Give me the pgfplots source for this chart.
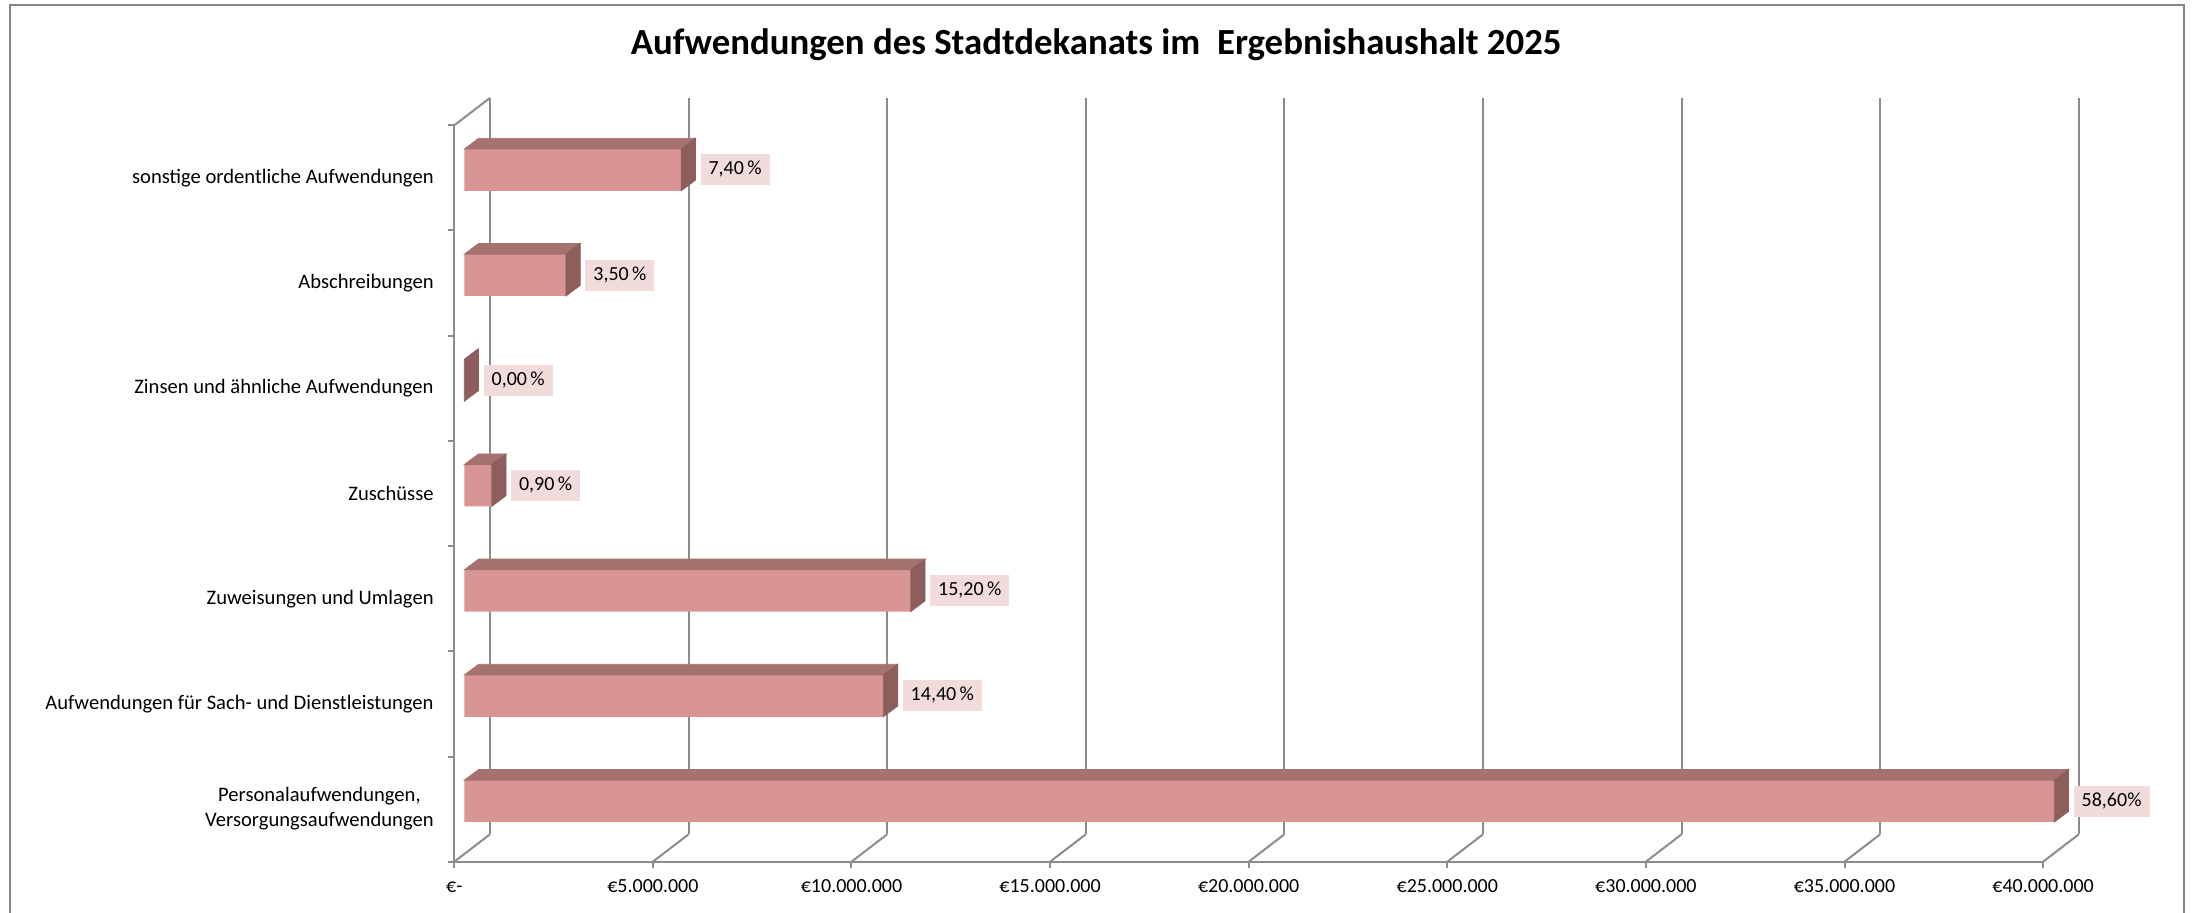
\documentclass[border=0pt]{standalone}
\usepackage{pgfplots}
\pgfplotsset{compat=1.18}
\usepackage{pgfplotstable}
\usepackage{fontspec}
\setmainfont{Carlito}
\definecolor{barfront}{RGB}{217,149,148}
\definecolor{bartop}{RGB}{166,114,111}
\definecolor{barside}{RGB}{141,94,92}
\definecolor{labelfill}{RGB}{242,220,219}
\definecolor{gridc}{RGB}{140,140,140}
\definecolor{framec}{RGB}{134,134,134}
\pgfdeclareplotmark{nothing}{}

% values in Mio. EUR, categories bottom (0) to top (6)
\pgfplotstableread{
c  v      lab
0  40.03  {58,60\%}
1  10.55  {14,40\,\%}
2  11.24  {15,20\,\%}
3  0.69   {0,90\,\%}
4  0      {0,00\,\%}
5  2.56   {3,50\,\%}
6  5.46   {7,40\,\%}
}\data

\begin{document}
\begin{tikzpicture}
\useasboundingbox (-227.15pt,-25.15pt) rectangle (870.85pt,430.85pt);
\draw[framec, line width=1.15pt] (-222.15pt,-40pt) -- (-222.15pt,428.35pt) -- (864.7pt,428.35pt) -- (864.7pt,-40pt);
\begin{axis}[
  at={(0pt,0pt)}, anchor=south west, scale only axis,
  x=19.86pt, y=52.6pt,
  xmin=0, xmax=40, ymin=-0.5, ymax=6.5,
  clip=false,
  axis x line*=bottom, axis y line*=left,
  axis line style={gridc, line width=1pt, -},
  xtick={0,5,...,40},
  xticklabels={€-, €5.000.000, €10.000.000, €15.000.000, €20.000.000, €25.000.000, €30.000.000, €35.000.000, €40.000.000},
  ytick={0,...,6},
  yticklabels={{Personalaufwendungen,\\Versorgungsaufwendungen}, Aufwendungen für Sach- und Dienstleistungen, Zuweisungen und Umlagen, Zuschüsse, Zinsen und ähnliche Aufwendungen, Abschreibungen, sonstige ordentliche Aufwendungen},
  minor xtick={0,5,...,40},
  minor ytick={-0.5,0.5,...,6.5},
  major tick length=0pt, minor tick length=3pt,
  tick align=outside,
  tick style={gridc, line width=1pt},
  tick label style={font=\fontsize{10pt}{12.5pt}\selectfont, text=black},
  xticklabel style={anchor=base, yshift=-15.6pt},
  yticklabel style={anchor=east, align=center, xshift=-6.8pt, font=\fontsize{10.3pt}{12.5pt}\selectfont},
]
% back wall gridlines and floor diagonals
\pgfplotsinvokeforeach{0,5,10,15,20,25,30,35,40}{
  \draw[gridc, line width=1pt] ([shift={(17.85pt,13.7pt)}]axis cs:#1,-0.5) -- ([shift={(17.85pt,13.7pt)}]axis cs:#1,6.5);
  \draw[gridc, line width=1pt] (axis cs:#1,-0.5) -- ([shift={(17.85pt,13.7pt)}]axis cs:#1,-0.5);
}
\draw[gridc, line width=1pt] (axis cs:0,6.5) -- ([shift={(17.85pt,13.7pt)}]axis cs:0,6.5);

% top and side faces of the bars
\addplot[scatter, only marks, mark=nothing,
  visualization depends on={\thisrow{v}\as\val},
  scatter/@pre marker code/.code={%
    \pgfmathsetmacro\len{\val*19.86}%
    \pgfmathsetmacro\xl{12.15-\len}%
    \pgfmathsetmacro\xf{5-\len}%
    \fill[bartop] (5pt,14.43pt) -- (12.15pt,19.78pt) -- (\xl pt,19.78pt) -- (\xf pt,14.43pt) -- cycle;%
    \fill[barside] (5pt,14.43pt) -- (12.15pt,19.78pt) -- (12.15pt,-1.07pt) -- (5pt,-6.43pt) -- cycle;%
  },
  scatter/@post marker code/.code={}]
  table[x=v,y=c]{\data};

% front faces
\addplot[xbar, fill=barfront, draw=none, bar width=20.86pt, bar shift=4pt, xshift=5pt]
  table[x=v,y=c]{\data};

% data labels
\addplot[only marks, mark=nothing, nodes near coords, point meta=explicit symbolic,
  nodes near coords style={anchor=west, xshift=14.5pt, yshift=4pt, fill=labelfill,
    inner xsep=4pt, inner ysep=3.25pt, text height=7pt, text depth=2pt,
    font=\fontsize{10pt}{12pt}\selectfont, text=black}]
  table[x=v,y=c,meta=lab]{\data};
\end{axis}
\node[font=\bfseries\fontsize{18.4pt}{22pt}\selectfont, anchor=base] at (320.9pt,403.6pt)
  {Aufwendungen des Stadtdekanats im\ \ Ergebnishaushalt 2025};
\end{tikzpicture}
\end{document}
